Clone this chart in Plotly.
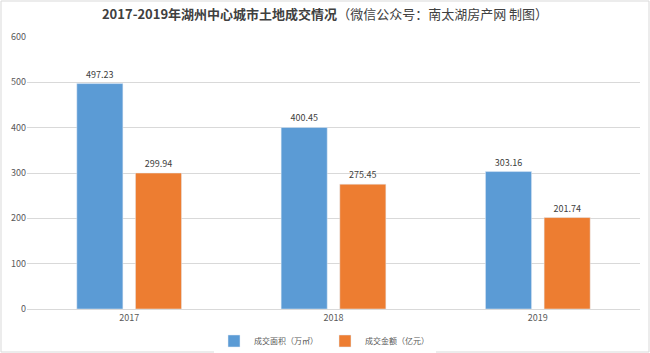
import plotly.graph_objects as go

years = ["2017", "2018", "2019"]
area = [497.23, 400.45, 303.16]
amount = [299.94, 275.45, 201.74]
series_names = ["成交面积（万㎡）", "成交金额（亿元）"]
y_ticks = [0, 100, 200, 300, 400, 500, 600]

font_family = "Microsoft YaHei, Noto Sans CJK SC, sans-serif"
fig = go.Figure()
fig.add_trace(go.Bar(
    x=years, y=area, name=series_names[0], marker_color="#5B9BD5",
    text=[f"{v:.2f}" for v in area], textposition="outside",
    textfont=dict(size=9, color="#404040"), cliponaxis=False,
))
fig.add_trace(go.Bar(
    x=years, y=amount, name=series_names[1], marker_color="#ED7D31",
    text=[f"{v:.2f}" for v in amount], textposition="outside",
    textfont=dict(size=9, color="#404040"), cliponaxis=False,
))

fig.update_layout(
    width=650, height=353,
    margin=dict(l=27, r=10, t=37, b=44, autoexpand=False),
    paper_bgcolor="white", plot_bgcolor="white",
    font=dict(family=font_family, size=9, color="#595959"),
    barmode="group", bargap=0.426, bargroupgap=0.214,
    title=dict(
        text="<b>2017-2019年湖州中心城市土地成交情况</b>（微信公众号：南太湖房产网 制图）",
        x=0.5, xanchor="center", y=0.96, yanchor="middle",
        font=dict(size=13, color="#404040", family=font_family),
    ),
    xaxis=dict(showline=True, linecolor="#D9D9D9", ticks="", tickfont=dict(size=9, color="#595959"),
               showgrid=False),
    yaxis=dict(range=[0, 600], tickvals=y_ticks, showgrid=True, gridcolor="#D9D9D9",
               zeroline=False, tickfont=dict(size=9, color="#595959"), ticks="", ticklen=0),
    legend=dict(orientation="h", x=0.5, xanchor="center", xref="container",
                y=0.034, yanchor="middle", yref="container",
                font=dict(size=8, color="#595959"), itemwidth=30,
                entrywidth=66, entrywidthmode="pixels", tracegroupgap=0),
    showlegend=True,
)
fig.add_shape(type="rect", xref="paper", yref="paper", x0=-26/613, x1=1+9/613,
              y0=-43/272, y1=1+36/272, line=dict(color="#D9D9D9", width=1))

fig.write_html("out.html")
